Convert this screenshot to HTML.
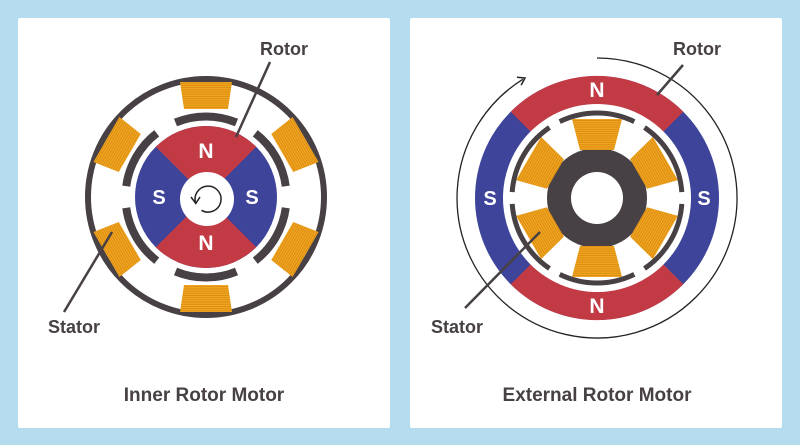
<!DOCTYPE html>
<html><head><meta charset="utf-8"><style>
html,body{margin:0;padding:0;background:#b5dcee;}
svg{display:block}
text{font-family:"Liberation Sans",sans-serif;font-weight:bold;}
</style></head><body>
<svg width="800" height="445" viewBox="0 0 800 445" xmlns="http://www.w3.org/2000/svg">
<defs>
<pattern id="coil" patternUnits="userSpaceOnUse" width="4" height="2.2">
<rect width="4" height="2.2" fill="#f2a51e"/>
<rect y="1.4" width="4" height="0.7" fill="#d08410"/>
</pattern>
</defs>
<rect width="800" height="445" fill="#b5dcee"/>
<rect x="18" y="18" width="372" height="410" fill="#fff" rx="2"/>
<rect x="410" y="18" width="372" height="410" fill="#fff" rx="2"/>

<!-- LEFT MOTOR -->
<g>
<circle cx="206" cy="197" r="118" fill="none" stroke="#474044" stroke-width="6"/>
<g id="lc">
<polygon points="184,109 228,109 232,82 180,82" fill="url(#coil)"/>
<path d="M175.5,122.5 A80,80 0 0 1 236.5,122.5" fill="none" stroke="#474044" stroke-width="8"/>
</g>
<use href="#lc" transform="rotate(60 206 197)"/>
<use href="#lc" transform="rotate(120 206 197)"/>
<use href="#lc" transform="rotate(180 206 197)"/>
<use href="#lc" transform="rotate(240 206 197)"/>
<use href="#lc" transform="rotate(300 206 197)"/>
<circle cx="206" cy="197" r="71" fill="#3d449a"/>
<path d="M206,197 L155.8,146.8 A71,71 0 0 1 256.2,146.8 Z" fill="#c23a44"/>
<path d="M206,197 L155.8,247.2 A71,71 0 0 0 256.2,247.2 Z" fill="#c23a44"/>
<circle cx="207" cy="199" r="27" fill="#fff"/>
<path d="M195.8,203.4 A13,13 0 1 1 201.5,210.3" fill="none" stroke="#222" stroke-width="1.5"/>
<path d="M191,197 L195.8,203.4 L200,197" fill="none" stroke="#222" stroke-width="1.5"/>
<text x="206" y="158" fill="#fff" font-size="21" text-anchor="middle">N</text>
<text x="206" y="250" fill="#fff" font-size="21" text-anchor="middle">N</text>
<text x="159" y="204" fill="#fff" font-size="20" text-anchor="middle">S</text>
<text x="252" y="204" fill="#fff" font-size="20" text-anchor="middle">S</text>
<line x1="270" y1="62" x2="236" y2="137" stroke="#474044" stroke-width="2.5"/>
<line x1="64" y1="312" x2="112" y2="232" stroke="#474044" stroke-width="2.5"/>
<text x="284" y="55" fill="#474044" font-size="18" text-anchor="middle">Rotor</text>
<text x="74" y="333" fill="#474044" font-size="18" text-anchor="middle">Stator</text>
<text x="204" y="401" fill="#474044" font-size="19" text-anchor="middle">Inner Rotor Motor</text>
</g>

<!-- RIGHT MOTOR -->
<g>
<path d="M597,58 A140,140 0 1 1 522.8,79.3" fill="none" stroke="#222" stroke-width="1.3"/>
<path d="M516.9,77.3 L525,78 L521.1,85.1" fill="none" stroke="#222" stroke-width="1.5"/>
<circle cx="597" cy="198" r="122" fill="#3d449a"/>
<path d="M597,198 L510.7,111.7 A122,122 0 0 1 683.3,111.7 Z" fill="#c23a44"/>
<path d="M597,198 L510.7,284.3 A122,122 0 0 0 683.3,284.3 Z" fill="#c23a44"/>
<circle cx="597" cy="198" r="94" fill="#fff"/>
<circle cx="597" cy="198" r="50" fill="#474044"/>
<g id="rc">
<polygon points="580,150 614,150 622,119 572,119" fill="url(#coil)"/>
<path d="M559.7,121.6 A85,85 0 0 1 634.3,121.6" fill="none" stroke="#474044" stroke-width="5"/>
</g>
<use href="#rc" transform="rotate(60 597 198)"/>
<use href="#rc" transform="rotate(120 597 198)"/>
<use href="#rc" transform="rotate(180 597 198)"/>
<use href="#rc" transform="rotate(240 597 198)"/>
<use href="#rc" transform="rotate(300 597 198)"/>
<circle cx="597" cy="198" r="48" fill="#474044"/>
<circle cx="597" cy="198" r="26" fill="#fff"/>
<text x="597" y="97" fill="#fff" font-size="21" text-anchor="middle">N</text>
<text x="597" y="313" fill="#fff" font-size="21" text-anchor="middle">N</text>
<text x="490" y="205" fill="#fff" font-size="20" text-anchor="middle">S</text>
<text x="704" y="205" fill="#fff" font-size="20" text-anchor="middle">S</text>
<line x1="683" y1="65" x2="657" y2="95" stroke="#474044" stroke-width="2.5"/>
<line x1="465" y1="308" x2="540" y2="232" stroke="#474044" stroke-width="2.5"/>
<text x="697" y="55" fill="#474044" font-size="18" text-anchor="middle">Rotor</text>
<text x="457" y="333" fill="#474044" font-size="18" text-anchor="middle">Stator</text>
<text x="597" y="401" fill="#474044" font-size="19" text-anchor="middle">External Rotor Motor</text>
</g>
</svg>
</body></html>
